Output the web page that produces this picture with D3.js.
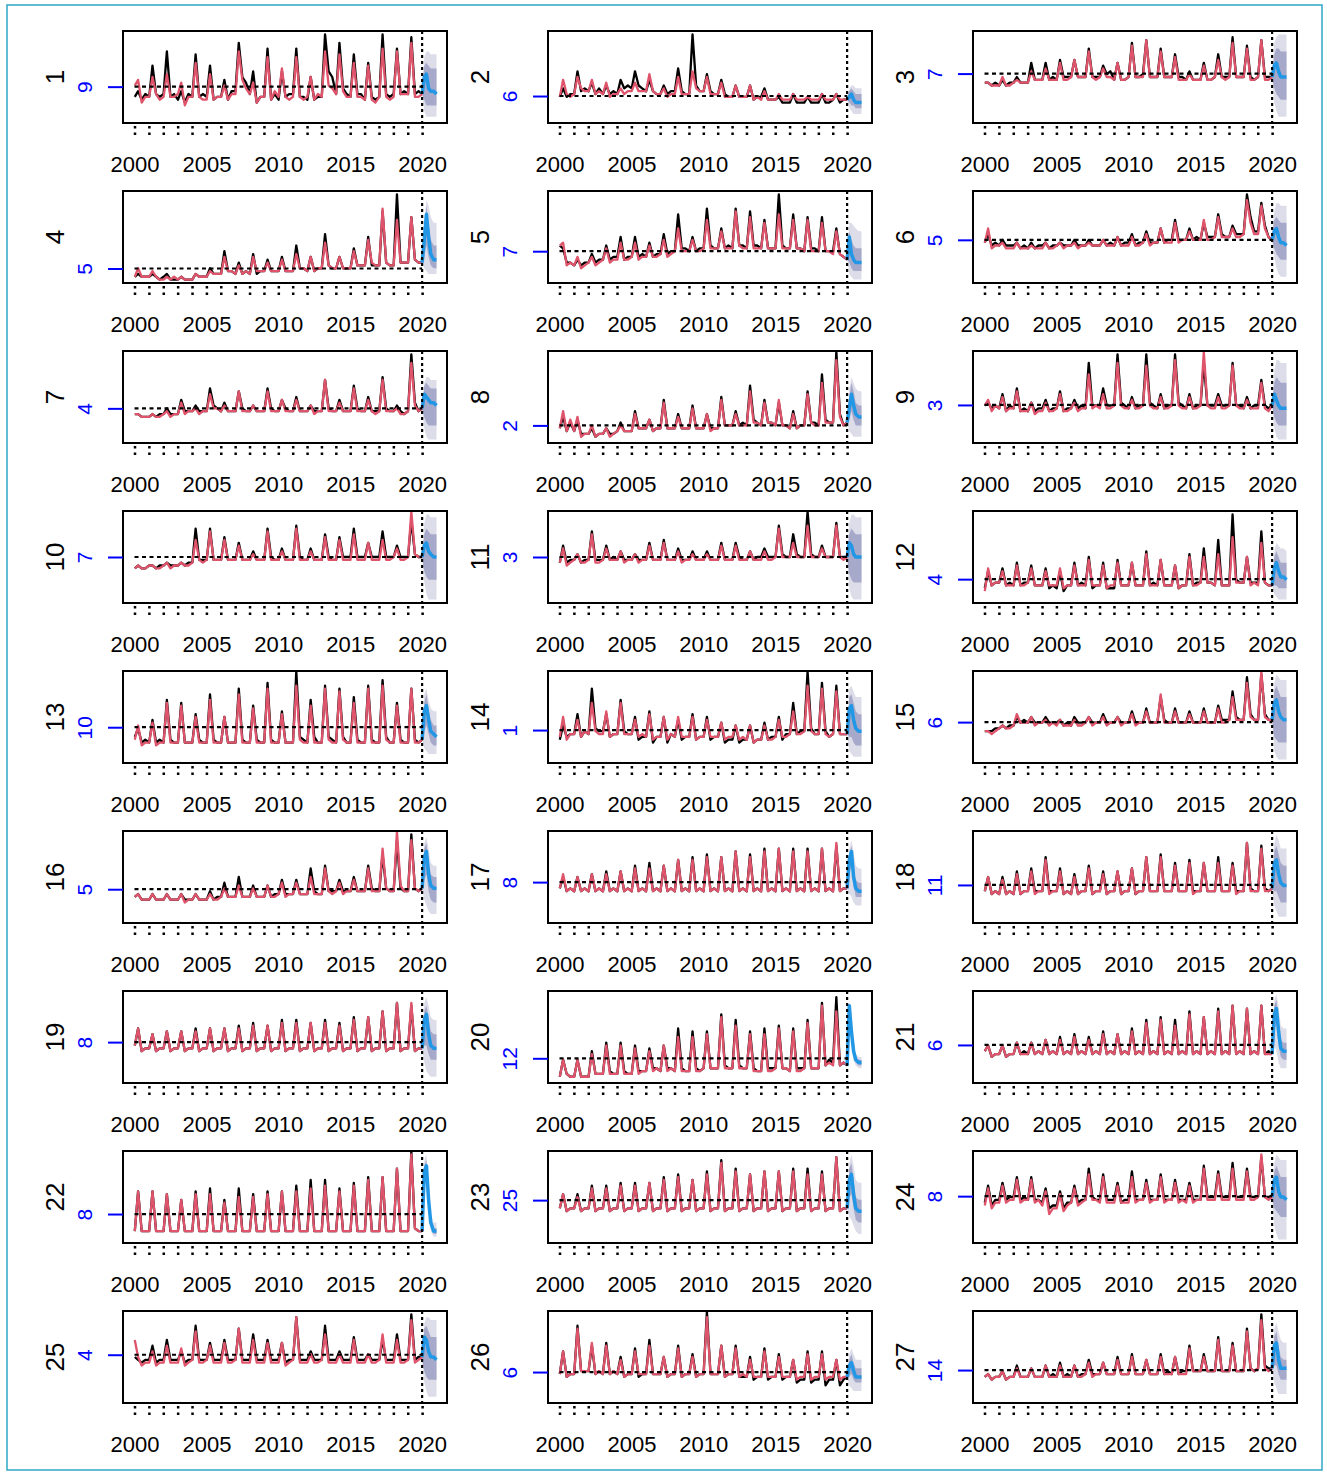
<!DOCTYPE html>
<html><head><meta charset="utf-8">
<script src="https://cdn.jsdelivr.net/npm/d3@7"></script>
<style>body{margin:0;background:#fff}</style>
</head><body>
<svg id="c" width="1327" height="1473"></svg>
<script>
// ---------------- DATA ----------------
const panelIds = [1,2,3,4,5,6,7,8,9,10,11,12,13,14,15,16,17,18,19,20,21,22,23,24,25,26,27];
const meanLabels = ["9","6","7","5","7","5","4","2","3","7","3","4","10","1","6","5","8","11","8","12","6","8","25","8","4","6","14"];
// level of the dashed mean line on each panel's (relative) value scale
const meanLevels = [11.6,8.3,16.2,3.9,10,14,11,5,12.2,15,15,7.2,11.4,10.4,13.2,10.7,13.2,12.2,13.2,7.5,12.2,9,13.9,15.3,15.8,9.7,10.4];
const years = [2000,2001,2002,2003,2004,2005,2006,2007,2008,2009,2010,2011,2012,2013,2014,2015,2016,2017,2018,2019];
const seasonOffsets = [0.02,0.25,0.5,0.75];
const yearTicks = [2000,2001,2002,2003,2004,2005,2006,2007,2008,2009,2010,2011,2012,2013,2014,2015,2016,2017,2018,2019,2020];
const yearLabels = [2000,2005,2010,2015,2020];
const forecastStart = 2020;
const fcTimes = [2020.0,2020.15,2020.3,2020.45,2020.6,2020.8,2021.0];

// observed series (black), 4 samples per year 2000-2019
const observed = [
[8,10,7,9,8,19,9,8,9,24,8,9,7,10,6,9,8,23,8,9,8,19,7,8,8,14,7,10,10,27,15,13,9,17,6,8,8,25,7,9,7,17,8,9,9,25,8,8,7,15,7,8,8,30,17,15,9,27,11,9,8,23,9,9,7,20,8,7,8,30,9,8,9,25,9,10,9,29,9,10],
[8,11,8,9,9,17,10,11,10,13,9,11,9,12,9,10,9,14,11,12,11,17,12,11,10,14,10,9,9,12,9,10,10,18,10,9,9,30,12,10,10,16,10,9,9,14,9,8,8,12,8,8,8,12,7,8,8,11,7,7,7,8,6,6,6,9,6,6,6,8,6,6,6,9,6,6,7,9,6,7],
[13,13,12,13,12,14,12,13,13,15,13,13,13,20,14,14,14,20,14,15,14,21,15,15,15,21,15,15,15,25,15,15,15,19,16,17,14,20,14,14,15,27,15,15,16,28,15,15,15,25,15,15,15,23,15,15,14,17,14,14,14,20,14,14,15,23,15,15,15,29,15,15,15,26,15,14,15,28,15,15],
[1,2,1,1,1,2,1,0,1,2,0,0,0,1,0,0,0,2,1,1,1,4,2,2,2,10,3,3,2,6,2,3,2,9,2,3,3,7,3,3,3,8,3,3,3,12,4,4,3,8,3,4,4,16,5,4,4,8,4,4,4,11,5,5,5,15,5,5,5,24,6,5,5,30,6,6,6,22,7,6],
[12,11,6,6,5,7,5,6,6,9,6,7,7,12,7,8,8,15,7,8,8,15,8,9,8,13,8,9,9,16,9,10,10,23,11,11,10,15,10,11,11,25,12,11,11,18,11,12,11,25,12,12,11,24,12,12,11,21,11,11,11,30,12,11,11,23,11,11,10,22,11,11,10,22,10,10,10,18,9,8],
[13,16,12,13,12,14,12,12,12,13,11,12,11,13,11,12,12,13,11,12,12,13,12,12,12,14,12,12,12,14,12,12,12,14,12,13,12,15,12,13,13,16,12,13,13,17,13,13,13,18,13,14,14,21,14,14,14,18,14,15,14,20,15,15,15,23,16,15,15,19,16,16,16,30,22,17,17,27,19,15],
[9,9,8,8,8,9,8,9,9,11,9,9,9,14,10,10,10,12,10,10,10,18,12,11,10,13,10,10,10,17,11,10,10,12,10,10,10,18,11,10,10,14,11,10,10,15,10,10,10,12,10,10,10,21,11,10,10,14,10,10,10,19,11,10,10,15,10,10,10,22,11,10,10,12,10,9,10,30,13,10],
[4,8,3,6,3,7,2,2,2,4,1,2,2,4,2,2,3,6,3,3,3,10,4,4,4,7,3,4,4,14,4,4,4,9,4,4,4,12,4,4,4,9,4,4,4,15,5,5,5,10,5,6,5,19,7,6,5,14,6,6,5,13,5,5,4,10,4,5,5,17,6,6,5,23,7,6,6,31,9,5],
[12,13,11,12,11,16,10,12,11,18,10,11,10,13,10,11,11,14,10,11,11,17,10,11,11,14,11,12,11,27,12,12,12,18,12,12,12,30,13,12,11,15,11,12,12,30,13,12,11,16,11,12,12,30,13,12,11,16,11,12,12,27,12,12,12,16,12,12,12,27,12,12,11,15,11,12,12,21,12,11],
[11,12,11,11,12,12,11,12,12,13,12,12,12,13,12,13,13,25,14,14,14,25,14,14,14,22,14,14,14,20,14,14,14,17,14,14,14,25,15,14,14,18,14,14,14,26,15,14,14,18,14,14,14,23,15,14,14,22,15,15,15,25,15,15,15,20,15,15,15,24,15,15,15,19,15,15,15,28,16,15],
[13,19,13,14,14,16,13,14,14,24,14,14,14,19,14,15,14,17,14,14,14,16,14,14,14,20,14,14,14,21,14,14,14,18,14,14,14,17,14,14,14,17,14,14,14,20,14,14,14,20,15,14,14,17,14,15,15,18,15,15,15,26,16,15,15,23,16,15,15,31,16,15,15,19,15,15,15,27,15,15],
[4,10,5,6,6,11,5,6,5,13,5,6,6,12,5,5,5,11,4,5,4,10,3,5,5,13,5,6,5,15,4,5,5,13,4,4,4,14,5,5,5,13,5,5,5,17,5,6,5,14,5,5,5,12,4,5,5,16,5,6,6,18,6,6,5,21,5,5,5,30,7,6,6,15,6,6,6,24,6,5],
[8,11,6,7,6,14,6,7,6,21,7,6,6,20,6,6,6,16,7,6,6,23,7,6,6,15,6,6,6,25,7,6,6,19,7,6,6,27,7,6,6,17,6,6,6,31,8,7,6,21,8,6,6,26,8,7,6,25,8,6,6,22,7,6,6,26,7,6,6,28,8,6,6,20,7,6,6,25,7,6],
[7,12,8,9,9,16,8,10,9,25,11,10,10,16,8,9,9,21,10,9,9,15,7,8,8,17,6,8,8,15,6,9,8,14,7,8,8,16,7,8,8,15,7,8,8,13,6,7,7,12,6,7,7,12,6,7,7,13,7,8,8,15,7,9,9,20,9,10,10,31,11,9,9,27,10,8,9,26,9,9],
[10,10,10,11,11,12,11,12,12,15,13,14,13,15,13,13,13,15,13,13,13,14,12,13,12,15,13,13,13,15,13,13,13,16,13,13,13,15,13,13,13,17,13,13,13,18,13,13,13,22,14,13,13,18,13,13,13,17,13,13,13,18,13,13,13,19,14,14,14,24,15,14,14,29,16,14,14,30,16,14],
[8,9,7,7,7,9,7,7,7,9,7,7,7,9,7,7,7,9,7,7,7,10,7,8,8,13,8,8,8,15,8,8,8,12,8,8,8,12,8,9,9,14,9,9,9,14,9,9,9,18,10,9,9,19,10,10,10,14,10,10,10,15,10,10,10,19,11,10,10,23,11,10,10,28,11,10,10,30,11,10],
[11,15,10,11,10,15,10,11,10,16,10,11,10,17,10,11,10,17,10,11,10,19,10,11,10,20,10,11,10,19,10,11,10,21,10,11,10,22,10,11,10,23,10,11,10,22,10,11,10,24,10,11,10,23,10,11,10,25,10,11,10,25,10,11,10,25,10,11,10,25,10,11,10,25,10,11,10,26,10,11],
[10,15,9,10,9,15,9,10,9,17,9,10,10,18,10,10,10,22,10,10,10,18,9,10,9,16,9,10,10,19,9,10,10,17,9,10,10,17,9,10,10,18,9,10,10,22,10,10,10,23,10,10,10,20,10,10,10,21,10,10,10,20,10,10,10,22,10,10,10,20,10,10,10,27,11,10,10,26,11,10],
[12,18,10,11,11,16,10,11,11,17,10,11,11,17,10,11,11,18,10,11,11,18,10,11,11,18,10,11,11,19,10,11,11,20,10,11,11,19,10,11,11,21,10,11,11,21,10,11,11,20,10,11,11,21,10,11,11,20,10,11,11,22,10,11,11,22,10,11,11,24,10,11,11,27,10,11,11,26,10,11],
[1,7,2,1,1,7,1,1,1,10,2,2,2,13,3,2,2,13,3,2,2,12,3,3,3,11,4,4,3,12,4,4,3,18,4,3,3,17,4,3,4,17,4,4,4,23,5,4,4,21,5,4,4,17,4,3,3,18,4,4,4,19,4,4,3,18,4,4,4,21,4,4,4,27,5,7,6,29,5,6],
[10,12,8,9,9,12,8,9,9,13,9,10,9,13,9,10,9,14,9,10,9,15,9,10,9,16,9,10,9,15,9,10,9,17,9,10,9,16,9,10,9,18,9,10,9,21,9,10,9,22,9,10,9,21,9,10,9,24,9,10,9,22,9,10,9,25,9,10,9,26,9,10,9,25,9,10,9,26,9,10],
[3,17,3,3,3,17,3,3,3,16,3,3,3,14,3,3,3,17,3,3,3,18,3,3,3,14,3,3,3,18,3,3,3,16,3,3,3,17,3,3,3,17,3,3,3,19,3,3,3,21,3,3,3,21,3,3,3,18,3,3,3,20,3,3,3,22,3,3,3,22,3,3,3,25,3,3,3,31,4,3],
[11,16,10,11,11,16,10,11,11,19,10,11,11,19,10,11,11,20,10,11,11,20,10,11,11,20,10,11,11,22,10,11,11,23,10,11,11,21,10,11,11,24,10,11,11,28,10,11,11,25,10,11,11,23,10,11,11,24,10,11,11,24,10,11,11,25,10,11,11,25,10,11,11,24,10,11,11,29,10,11],
[13,19,12,14,14,20,14,15,15,22,14,15,14,22,14,14,13,18,11,12,12,17,11,13,13,19,13,14,14,25,15,14,14,23,14,14,14,20,13,14,14,24,14,14,14,21,14,14,14,23,14,14,14,21,14,14,14,20,14,14,14,26,15,15,15,24,15,15,15,27,15,15,15,25,15,15,15,29,15,15],
[15,14,13,14,14,19,13,14,14,21,14,14,14,17,13,14,14,26,14,14,14,20,14,14,14,21,14,14,14,25,14,14,14,23,14,14,14,21,14,14,14,20,13,14,14,29,14,14,14,17,14,14,14,26,14,14,14,17,14,14,14,22,14,14,14,16,14,14,14,21,14,14,14,23,14,14,14,30,14,15],
[9,17,8,9,9,26,10,10,10,19,9,10,9,20,9,10,9,15,8,9,9,18,8,9,9,21,9,9,9,15,8,9,9,19,8,9,9,16,8,9,9,31,9,9,9,19,8,9,9,19,8,8,8,15,7,8,8,18,7,8,8,16,7,8,8,14,6,7,7,17,6,7,7,17,5,7,7,14,5,7],
[8,9,7,8,8,10,7,8,8,12,8,8,8,11,8,8,8,12,8,9,8,13,8,9,8,12,8,9,9,14,9,9,9,13,9,9,9,15,9,9,9,16,9,9,9,14,9,9,9,16,9,10,9,15,9,10,10,19,10,10,10,16,10,10,10,22,10,10,10,20,10,10,10,25,11,10,11,30,12,11]
];

// fitted series (red), same sampling
const fitted = [
[12,14,6,8,8,15,9,7,8,16,8,8,9,13,5,8,8,20,8,7,7,16,7,8,8,12,7,9,9,24,14,11,9,13,6,8,8,22,7,10,8,18,8,7,8,22,8,7,8,15,7,9,8,24,12,11,9,23,10,8,8,20,8,8,7,19,7,6,8,25,8,7,8,24,9,9,9,27,8,8],
[8,14,9,8,9,15,11,10,10,14,9,10,9,13,8,9,9,11,9,10,10,13,10,10,10,16,10,9,9,11,8,9,9,15,9,9,9,17,11,10,10,15,9,9,9,13,8,8,8,12,8,8,8,12,7,8,7,10,7,7,7,9,7,7,7,9,7,7,7,8,7,7,7,9,7,7,7,9,7,7],
[13,13,12,12,12,15,12,12,13,14,13,13,13,17,14,14,14,18,14,14,14,20,14,14,15,21,15,15,15,24,15,14,15,18,15,15,14,20,14,14,15,26,15,15,15,28,15,15,15,24,15,15,15,22,14,14,14,16,14,14,14,19,14,14,15,21,15,14,15,27,15,15,15,25,14,14,15,28,14,14],
[1,4,1,1,1,3,1,0,0,1,0,1,0,1,0,0,0,2,1,1,1,3,2,2,2,8,3,3,2,5,2,3,2,8,3,3,3,6,3,3,3,7,3,3,3,9,4,4,3,8,3,4,4,13,5,4,4,8,4,4,4,10,5,5,5,14,6,5,5,25,6,5,5,21,6,6,6,22,7,6],
[12,13,5,6,5,8,4,5,6,8,5,6,7,11,6,7,7,13,7,7,8,13,7,8,8,12,8,8,9,14,8,9,10,18,10,10,10,14,10,10,11,21,11,11,11,17,11,11,11,24,12,11,11,22,11,11,11,20,11,11,11,23,11,11,11,21,11,11,10,21,10,10,10,20,10,10,9,17,9,8],
[13,18,11,12,12,13,11,11,11,13,11,11,11,12,11,11,11,13,11,11,12,13,11,12,12,13,11,12,12,13,12,12,12,14,12,12,12,15,12,12,12,15,12,12,13,16,12,13,13,18,13,13,13,20,13,14,14,17,14,14,14,21,14,14,15,22,15,15,15,18,15,15,16,28,20,16,16,26,18,15],
[9,9,8,8,8,9,8,8,9,10,8,9,9,13,9,10,10,11,9,10,10,16,11,11,10,12,10,10,10,17,10,10,10,12,10,10,10,17,10,10,10,14,10,10,10,14,10,10,10,12,9,10,10,21,10,10,10,13,10,10,10,18,10,10,10,14,10,9,10,21,10,10,10,11,9,9,10,27,12,10],
[4,10,3,7,3,8,1,2,2,5,1,2,2,4,1,2,3,5,3,3,3,9,4,4,4,7,3,4,4,13,4,4,4,8,4,4,4,11,4,4,4,9,3,4,4,14,5,5,5,9,5,5,5,17,6,6,5,13,6,6,5,14,5,5,4,9,4,5,5,16,6,5,5,20,6,6,6,28,8,5],
[12,14,10,12,11,15,10,11,11,17,10,10,10,13,9,10,10,13,10,10,11,16,10,10,11,13,10,11,11,23,11,12,11,16,11,11,12,27,12,11,11,14,11,11,12,26,12,11,11,15,11,11,12,28,12,11,11,15,11,11,12,31,12,11,11,15,11,11,12,26,12,11,11,14,11,11,11,20,11,10],
[11,12,11,11,12,12,11,11,12,13,11,12,12,13,12,12,13,21,14,13,14,24,14,14,14,21,14,14,14,19,14,14,14,16,14,14,14,24,14,14,14,17,14,14,14,25,14,14,14,17,14,14,14,22,14,14,14,21,14,14,14,23,14,14,14,20,14,14,14,21,14,14,15,18,14,14,15,31,16,15],
[13,18,12,13,14,16,13,13,14,23,13,13,14,18,14,14,14,17,13,14,14,16,13,14,14,19,14,14,14,20,14,14,14,17,13,14,14,16,14,14,14,16,14,14,14,19,14,14,14,19,14,14,14,17,14,14,14,17,14,14,15,25,15,15,15,20,15,15,15,26,15,15,15,18,15,15,15,26,15,14],
[3,11,5,6,6,10,5,5,5,12,5,5,6,11,5,5,5,10,5,5,5,11,4,5,5,12,5,5,5,14,5,5,5,12,4,5,5,13,5,5,5,13,5,5,5,16,5,5,5,14,5,5,5,12,4,5,5,15,5,5,6,15,6,6,5,16,5,5,5,22,6,6,6,15,5,6,5,20,6,5],
[7,12,5,6,6,13,5,6,6,20,6,6,6,19,6,6,6,15,6,6,6,21,6,6,6,15,6,6,6,23,6,6,6,18,6,6,6,25,6,6,6,16,6,6,6,26,7,6,6,19,6,6,6,25,7,6,6,24,7,6,6,20,6,6,6,25,6,6,6,26,7,6,6,19,6,6,6,25,6,6],
[8,15,7,9,9,14,8,10,9,20,10,9,9,17,8,9,9,20,9,9,9,14,8,9,8,16,7,8,8,15,7,9,8,15,8,8,8,15,7,8,8,14,8,8,8,13,7,8,8,12,7,8,7,12,6,7,7,12,7,7,8,14,8,8,9,17,9,9,10,26,10,9,9,25,9,8,9,24,9,9],
[10,10,9,10,11,12,11,11,12,16,13,13,13,15,12,13,13,14,12,13,12,14,12,12,12,14,12,12,13,15,12,13,13,15,12,13,13,15,12,13,13,16,12,13,13,17,13,13,13,23,13,13,13,17,13,13,13,16,13,13,13,17,13,13,13,18,13,13,14,22,14,14,14,27,15,14,14,31,15,14],
[8,9,7,7,7,9,7,7,7,9,7,7,7,9,6,7,7,9,7,7,7,9,7,7,8,11,8,8,8,12,8,8,8,11,8,8,8,12,8,8,9,13,8,9,9,13,9,9,9,15,9,9,9,18,10,9,10,13,9,10,10,14,10,10,10,18,10,10,10,25,11,10,10,31,12,10,10,28,11,10],
[11,16,10,11,10,15,10,11,10,16,10,11,10,16,10,11,10,17,10,11,10,18,10,11,10,18,10,11,10,19,10,11,10,21,10,11,10,21,10,11,10,22,10,11,10,22,10,11,10,24,10,11,10,22,10,11,10,24,10,11,10,25,10,11,10,24,10,11,10,24,10,11,10,25,10,11,10,27,10,11],
[10,15,9,10,9,14,9,10,9,16,9,10,10,17,9,10,10,21,9,10,10,17,9,10,9,15,9,10,10,18,9,10,10,16,9,10,10,17,9,10,10,18,9,10,10,22,10,10,10,22,10,10,10,19,10,10,10,20,9,10,10,20,10,10,10,20,10,10,10,19,9,10,10,27,10,10,10,25,10,10],
[12,18,10,11,11,16,10,11,11,17,10,11,11,17,10,11,11,17,10,11,11,18,10,11,11,18,10,11,11,18,10,11,11,19,10,11,11,19,10,11,11,20,10,11,11,20,10,11,11,20,10,11,11,20,10,11,11,19,10,11,11,21,10,11,11,22,10,11,11,24,10,11,11,27,10,11,11,27,10,11],
[1,7,2,1,1,7,1,1,1,9,2,2,2,12,2,2,2,12,2,2,2,11,2,3,3,10,3,4,3,12,3,4,3,15,3,3,3,15,3,3,4,16,4,4,4,22,4,4,4,19,4,4,4,16,3,3,3,16,3,3,4,18,4,4,3,17,3,3,4,20,4,4,4,26,5,6,5,24,5,6],
[10,12,8,9,9,12,8,9,9,13,9,9,9,13,9,10,9,14,9,10,9,14,9,10,9,15,9,10,9,14,9,10,9,16,9,10,9,16,9,10,9,17,9,10,9,20,9,10,9,21,9,10,9,19,9,10,9,23,9,10,9,22,9,10,9,24,9,10,9,26,9,10,9,25,9,10,9,26,9,9],
[3,17,3,3,3,17,3,3,3,16,3,3,3,14,3,3,3,16,3,3,3,16,3,3,3,13,3,3,3,15,3,3,3,15,3,3,3,16,3,3,3,17,3,3,3,17,3,3,3,18,3,3,3,19,3,3,3,17,3,3,3,19,3,3,3,21,3,3,3,22,3,3,3,25,3,3,3,30,4,3],
[11,16,10,11,11,15,10,11,11,18,10,11,11,18,10,11,11,19,10,11,11,19,10,11,11,20,10,11,11,21,10,11,11,22,10,11,11,21,10,11,11,23,10,11,11,27,10,11,11,24,10,11,11,23,10,11,11,24,10,11,11,24,10,11,11,24,10,11,11,23,10,11,11,23,10,11,11,29,10,11],
[12,18,11,13,13,19,13,14,14,21,13,14,14,21,13,14,12,17,9,11,11,16,10,12,13,18,12,13,14,23,14,14,13,22,13,13,13,19,13,13,13,22,13,14,14,20,13,14,14,22,13,14,14,20,13,14,13,19,13,14,14,25,14,14,14,23,14,14,14,25,14,14,14,24,14,14,15,30,15,14],
[21,15,12,13,13,17,12,13,13,19,13,13,13,18,12,13,14,24,13,13,14,19,13,13,13,20,13,13,14,25,13,13,13,21,13,13,13,20,13,13,13,20,12,13,14,29,13,13,13,16,13,13,14,23,13,13,13,16,13,13,13,21,13,13,13,16,13,13,14,23,13,13,13,21,13,13,14,28,13,14],
[9,17,8,9,9,25,10,10,10,20,9,10,9,19,9,10,9,14,8,9,9,17,9,9,9,19,9,9,9,15,8,9,9,18,8,9,9,15,8,9,9,29,9,9,9,19,8,9,9,18,8,9,8,14,8,8,8,17,8,8,8,15,8,8,8,14,7,8,8,16,7,8,8,16,7,8,8,14,7,8],
[8,9,7,8,8,10,7,8,8,11,8,8,8,11,8,8,8,12,8,8,8,12,8,8,8,12,8,8,9,13,8,9,9,13,9,9,9,14,9,9,9,15,9,9,9,14,9,9,9,15,9,9,9,15,9,9,9,18,10,10,10,15,10,10,10,21,10,10,10,19,10,10,10,24,11,10,11,28,11,10]
];

// forecast (blue) and its two prediction bands, at fcTimes
const fcMean = [[9,15,16,11,10,10,9],[7,8,9,7,6,6,6],[15,19,20,17,15,15,15],[6,14,23,15,9,7,7],[7,15,9,7,6,6,6],[14,17,18,15,13,13,12],[11,16,15,14,13,13,12],[6,11,16,12,9,8,8],[12,16,14,12,11,11,11],[15,19,20,17,16,15,15],[15,20,19,16,15,15,15],[5,11,13,10,8,8,7],[7,17,19,14,10,9,8],[9,18,19,14,11,10,10],[14,20,21,17,15,14,14],[11,22,24,16,12,11,11],[11,21,24,15,11,10,10],[11,20,21,16,13,12,12],[11,21,23,16,12,11,11],[5,26,17,10,7,6,6],[9,23,25,17,11,10,10],[3,24,26,14,6,3,3],[11,21,23,16,11,10,10],[15,21,22,17,15,15,14],[15,22,21,17,15,15,14],[8,12,13,10,8,8,8],[11,19,20,14,11,11,11]];
const fcOuterLo = [[9,3,1,1,1,1,1],[7,4,3,2,2,2,2],[15,6,3,1,1,1,1],[6,4,3,2,2,2,2],[7,2,1,0,0,0,0],[14,8,4,2,1,1,1],[11,4,1,0,0,0,0],[6,3,2,1,1,1,1],[12,4,1,0,0,0,0],[15,6,2,0,0,0,0],[15,4,1,0,0,0,0],[5,2,1,0,0,0,0],[7,4,3,2,2,2,2],[9,3,2,1,1,1,1],[14,3,1,0,0,0,0],[11,7,5,3,2,2,2],[11,9,8,6,5,5,5],[11,5,3,1,1,1,1],[11,6,3,2,1,1,1],[4,22,13,7,5,4,4],[9,12,10,6,4,4,4],[2,19,21,10,3,1,1],[11,8,7,5,3,2,2],[15,5,2,0,0,0,0],[14,6,3,1,1,1,1],[8,5,4,3,3,3,3],[11,6,4,2,2,2,2]];
const fcOuterHi = [[10,22,24,24,23,23,23],[8,11,12,12,11,11,11],[15,27,29,30,30,30,30],[6,20,28,26,22,20,20],[8,20,20,19,18,17,17],[15,24,27,27,26,26,26],[11,20,22,22,21,21,21],[6,18,22,20,18,17,17],[12,24,28,28,27,27,27],[15,27,30,30,29,29,29],[15,27,30,30,29,29,29],[6,17,20,19,18,18,17],[8,23,25,21,18,17,17],[10,25,26,24,22,22,22],[14,27,30,29,28,28,28],[11,27,29,25,20,19,19],[11,25,28,24,19,18,18],[11,27,30,28,25,25,25],[11,27,29,26,22,21,21],[6,28,20,13,9,8,8],[10,28,30,26,19,18,18],[4,28,30,18,9,6,6],[11,27,30,26,21,20,20],[15,27,30,29,28,28,28],[15,27,29,29,28,28,28],[9,16,18,16,14,14,14],[11,25,27,24,21,20,20]];
const fcInnerLo = [[9,7,5,5,5,5,5],[7,6,5,5,4,4,4],[15,11,9,8,7,7,7],[6,8,12,8,5,4,4],[7,6,4,3,3,3,3],[14,11,9,8,7,7,7],[11,8,6,5,5,5,5],[6,7,10,7,5,5,5],[12,8,6,5,5,5,5],[15,10,8,7,7,7,7],[15,9,7,6,6,6,6],[5,5,5,4,4,4,4],[7,10,12,9,6,5,5],[9,8,8,6,5,5,5],[14,8,7,6,6,6,6],[11,14,16,10,7,6,6],[11,16,19,12,8,8,8],[11,10,10,8,6,6,6],[11,12,12,9,7,7,7],[5,24,15,8,6,5,5],[9,18,19,12,8,7,7],[3,22,24,12,5,2,2],[11,15,16,11,7,6,6],[15,11,10,9,8,8,8],[14,10,8,7,7,7,7],[8,8,9,7,6,6,6],[11,12,12,9,7,7,7]];
const fcInnerHi = [[10,19,20,19,18,18,18],[8,10,11,10,9,9,9],[15,23,25,25,24,24,24],[6,18,26,20,14,12,12],[8,17,14,12,11,11,11],[15,21,22,21,20,20,20],[11,19,20,19,18,18,18],[6,15,20,17,13,12,12],[12,20,22,21,20,20,20],[15,23,25,24,23,23,23],[15,23,25,24,23,23,23],[6,15,17,15,13,13,13],[8,20,23,18,14,12,12],[10,22,23,20,17,16,16],[14,24,26,24,22,22,22],[11,25,27,21,16,15,15],[11,23,26,19,14,13,13],[11,24,26,23,20,19,19],[11,24,26,22,17,16,16],[5,27,19,11,8,7,7],[10,26,28,21,14,13,13],[3,26,28,16,7,4,4],[11,25,27,21,15,14,14],[15,24,26,24,22,22,22],[15,25,26,24,22,22,22],[9,14,16,13,11,11,11],[11,22,24,19,15,14,14]];

// ---------------- DRAWING ----------------
const svg = d3.select("#c");
const FONT = "'Liberation Sans', Arial, Helvetica, sans-serif";
const RED = "#DF536B", BLUE = "#2297E6";

svg.append("rect").attr("x",7).attr("y",5).attr("width",1315).attr("height",1465)
  .attr("fill","none").attr("stroke","#2fa8c6").attr("stroke-width",1.5);

// history samples, joined to the forecast start value at 2020
const toPts = (arr, i) => arr.map((v,k) => ({t: years[Math.floor(k/4)] + seasonOffsets[k%4], v}))
  .concat([{t: forecastStart, v: fcMean[i][0]}]);

panelIds.forEach((id, i) => {
  const col = i % 3, row = Math.floor(i / 3);
  const left = 123 + col * 425, top = 31 + row * 160, W = 324, H = 92;
  const x = d3.scaleLinear().domain([1999.2, 2021.73]).range([left, left + W]);
  const y = d3.scaleLinear().domain([-1.2, 31.2]).range([top + H, top]);
  const g = svg.append("g");

  const cid = "clip" + id;
  svg.append("clipPath").attr("id", cid).append("rect")
    .attr("x", left).attr("y", top).attr("width", W).attr("height", H);
  const inner = g.append("g").attr("clip-path", `url(#${cid})`);

  const fc = fcTimes.map((t,k) => ({t, m: fcMean[i][k], ol: fcOuterLo[i][k], oh: fcOuterHi[i][k], il: fcInnerLo[i][k], ih: fcInnerHi[i][k]}));
  inner.append("path").datum(fc)
    .attr("d", d3.area().x(d => x(d.t)).y0(d => y(d.ol)).y1(d => y(d.oh)))
    .attr("fill", "#dcdde9");
  inner.append("path").datum(fc)
    .attr("d", d3.area().x(d => x(d.t)).y0(d => y(d.il)).y1(d => y(d.ih)))
    .attr("fill", "#a6a9ca");

  const line = d3.line().x(d => x(d.t)).y(d => y(d.v));
  inner.append("path").datum(toPts(observed[i], i)).attr("d", line)
    .attr("fill","none").attr("stroke","#000").attr("stroke-width",2.3).attr("stroke-linejoin","round");
  inner.append("path").datum(toPts(fitted[i], i)).attr("d", line)
    .attr("fill","none").attr("stroke",RED).attr("stroke-width",2.3).attr("stroke-linejoin","round");

  // mean dashed line
  g.append("line").attr("x1", x(2000)).attr("x2", x(forecastStart))
    .attr("y1", y(meanLevels[i])).attr("y2", y(meanLevels[i]))
    .attr("stroke","#000").attr("stroke-width",2.2).attr("stroke-dasharray","4,3.5");
  // vertical dotted forecast-start line
  g.append("line").attr("x1", x(forecastStart)).attr("x2", x(forecastStart))
    .attr("y1", top).attr("y2", top + H)
    .attr("stroke","#000").attr("stroke-width",2.2).attr("stroke-dasharray","3,3");

  inner.append("path").datum(fc.map(d => ({t: d.t, v: d.m}))).attr("d", line)
    .attr("fill","none").attr("stroke",BLUE).attr("stroke-width",3.5).attr("stroke-linejoin","round");

  // box
  g.append("rect").attr("x", left).attr("y", top).attr("width", W).attr("height", H)
    .attr("fill","none").attr("stroke","#000").attr("stroke-width",2);

  // x axis: dotted year ticks, labels every 5 years
  const xa = g.append("g").attr("transform", `translate(0,${top + H + 3})`)
    .call(d3.axisBottom(x).tickValues(yearTicks).tickSize(10).tickPadding(20)
      .tickFormat(d => yearLabels.includes(d) ? String(d) : ""));
  xa.select(".domain").remove();
  xa.selectAll(".tick line").attr("stroke","#000").attr("stroke-width",2.5).attr("stroke-dasharray","2.5,4");
  xa.selectAll(".tick text").attr("fill","#000").style("font-family", FONT).style("font-size","22px");

  // y axis: single blue tick at the mean level
  const ya = g.append("g").attr("transform", `translate(${left},0)`)
    .call(d3.axisLeft(y).tickValues([meanLevels[i]]).tickSize(15).tickFormat(() => meanLabels[i]));
  ya.select(".domain").remove();
  ya.selectAll(".tick line").attr("stroke","#0000FF").attr("stroke-width",2);
  ya.selectAll(".tick text").attr("fill","#0000FF").attr("x",0).attr("y",-31).attr("dy",null)
    .attr("transform","rotate(-90)").attr("text-anchor","middle")
    .style("font-family", FONT).style("font-size","21px");

  // panel number
  g.append("text").attr("transform", `translate(${left - 59},${top + H/2}) rotate(-90)`)
    .attr("text-anchor","middle").style("font-family", FONT).style("font-size","26px")
    .attr("fill","#000").text(String(id));
});
</script>
</body></html>
